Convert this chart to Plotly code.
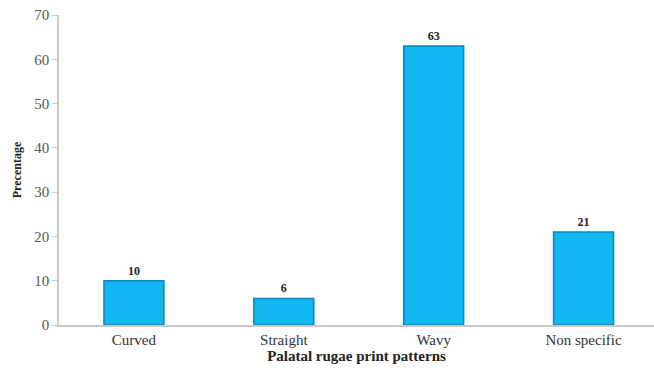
import plotly.graph_objects as go

categories = ["Curved", "Straight", "Wavy", "Non specific"]
values = [10, 6, 63, 21]
y_ticks = [0, 10, 20, 30, 40, 50, 60, 70]

fig = go.Figure()
fig.add_trace(go.Bar(
    x=categories, y=values, width=0.4,
    marker=dict(color="#12B6F2", line=dict(color="#0A86B8", width=1.5)),
    text=[str(v) for v in values], textposition="outside",
    textfont=dict(family="Liberation Serif", size=12, color="#222222"),
    cliponaxis=False,
))
fig.update_traces(texttemplate="<b>%{text}</b>")
fig.update_layout(
    width=654, height=372,
    margin=dict(l=59, r=0, t=15, b=47),
    plot_bgcolor="white", paper_bgcolor="white",
    showlegend=False,
    font=dict(family="Liberation Serif", color="#555555"),
    xaxis=dict(
        range=[-0.5, 3.47], showline=True, linecolor="#c8c8c8", linewidth=1.5,
        ticks="", tickfont=dict(size=15, color="#333333"),
        title=dict(text="<b>Palatal rugae print patterns</b>", standoff=3,
                   font=dict(size=15, color="#222222")),
    ),
    yaxis=dict(
        range=[0, 70], tickvals=y_ticks, showgrid=False, zeroline=False,
        showline=True, linecolor="#c8c8c8", linewidth=1.5,
        ticks="outside", ticklen=5, tickcolor="#c8c8c8",
        tickfont=dict(size=15, color="#555555"),
        title=dict(text="<b>Precentage</b>", standoff=10,
                   font=dict(size=12, color="#222222")),
    ),
)
fig.write_html("out.html")
